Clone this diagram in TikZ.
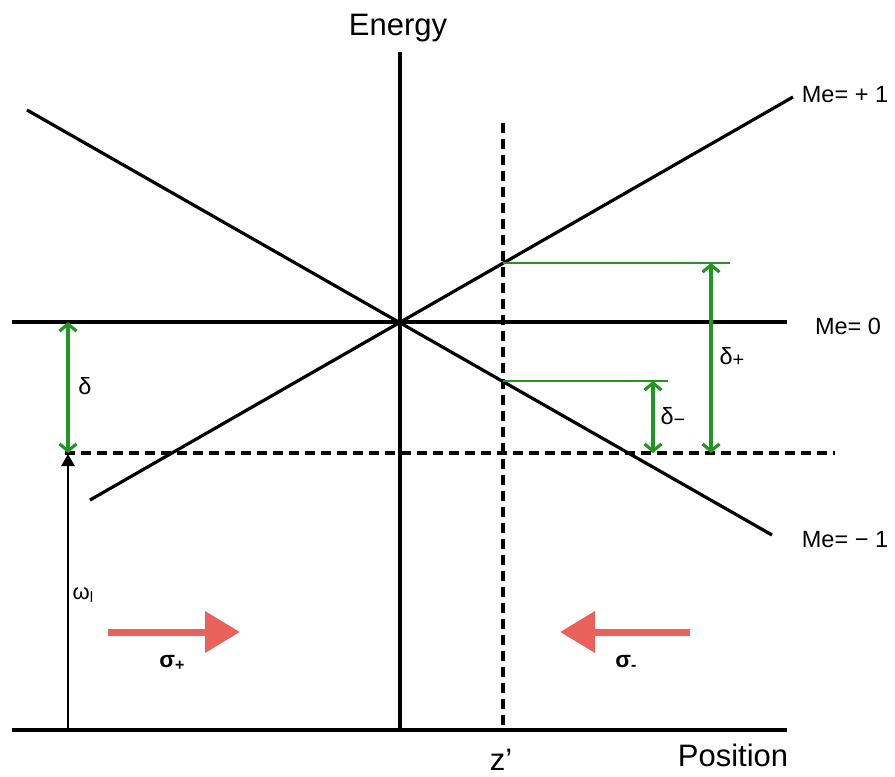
\documentclass[tikz,border=0pt]{standalone}
\usepackage{fontspec}
\setmainfont{Liberation Sans}
\usetikzlibrary{arrows.meta}
\definecolor{gapgreen}{RGB}{34,150,34}
\definecolor{beamred}{RGB}{234,96,90}
\newcommand{\lowsub}[2]{\raisebox{-0.12em}{\fontsize{#1}{#1}\selectfont #2}}
\tikzset{
  level/.style={line width=3.2pt, black},
  cutline/.style={line width=3.8pt, dash pattern=on 10pt off 6pt},
  mark line/.style={line width=1.8pt, gapgreen},
  gaparrow/.style={line width=3.2pt, gapgreen,
    {Straight Barb[length=7pt,width=17pt,line width=3.2pt]}-{Straight Barb[length=7pt,width=17pt,line width=3.2pt]}},
  beam/.style={line width=7pt, beamred, -{Triangle[length=35pt,width=40pt]}},
  big/.style={font=\fontsize{31}{36}\selectfont},
  lbl/.style={font=\fontsize{23.5}{28}\selectfont},
}
\begin{document}
\begin{tikzpicture}[x=1pt,y=-1pt]
    \useasboundingbox (0,0) rectangle (895,777);

    %points
    \coordinate (O) at (400,322);
    \coordinate (etop) at (400,52);
    \coordinate (ebot) at (400,730);
    \coordinate (pl) at (12,730);
    \coordinate (pr) at (787,730);
    \coordinate (zl) at (12,322);
    \coordinate (zr) at (787,322);
    \coordinate (upl) at (90,500);
    \coordinate (upr) at (793,97);
    \coordinate (dnl) at (27,110);
    \coordinate (dnr) at (772,535);
    \coordinate (laserl) at (65,453);
    \coordinate (laserr) at (835,453);
    \coordinate (ztop) at (503,123);
    \coordinate (zbot) at (503,730);
    \coordinate (hitup) at (503,263);
    \coordinate (hitdn) at (503,381);
    \coordinate (hitupr) at (730,263);
    \coordinate (hitdnr) at (668,381);

    %axis
    \draw[level] (etop) -- (ebot);
    \draw[level] (pl) -- (pr);
    \draw[level] (zl) -- (zr);

    %levels
    \draw[level] (upl) -- (upr);
    \draw[level] (dnl) -- (dnr);

    %laser and position (dashes)
    \draw[cutline] (laserl) -- (laserr);
    \draw[cutline] (ztop) -- (zbot);

    %detunings
    \draw[mark line] (hitup) -- (hitupr);
    \draw[mark line] (hitdn) -- (hitdnr);
    \draw[gaparrow] (711,263) -- (711,453);
    \draw[gaparrow] (653,381) -- (653,453);
    \draw[gaparrow] (68,322) -- (68,453);
    \draw[line width=2.8pt, -{Triangle[length=12pt,width=13pt]}] (68,730) -- (68,454);

    %beams
    \draw[beam] (108,632) -- (240,632);
    \draw[beam] (690,632) -- (560,632);

    %labels
    \node[big] (energy) at (398,28) {Energy};
    \node[big] (position) at (733,755) {Position};
    \node[big, inner sep=0pt] (zprime) at (501,760) {z’};
    \node[lbl] (mplus) at (845,95) {Me= + 1};
    \node[lbl] (mzero) at (848,326) {Me= 0};
    \node[lbl] (mminus) at (845,540) {Me= − 1};
    \node[lbl] (delta) at (85,386) {δ};
    \node[lbl] (deltap) at (732,357) {δ\lowsub{20}{+}};
    \node[lbl] (deltam) at (673,417) {δ\lowsub{20}{−}};
    \node[font=\fontsize{22}{26}\selectfont] (omega) at (83,595) {ω\lowsub{15}{l}};
    \node[font=\fontsize{23}{27}\selectfont\bfseries] (sigp) at (172,663) {σ\lowsub{16}{+}};
    \node[font=\fontsize{23}{27}\selectfont\bfseries] (sigm) at (626,663) {σ\lowsub{16}{-}};
\end{tikzpicture}
\end{document}
